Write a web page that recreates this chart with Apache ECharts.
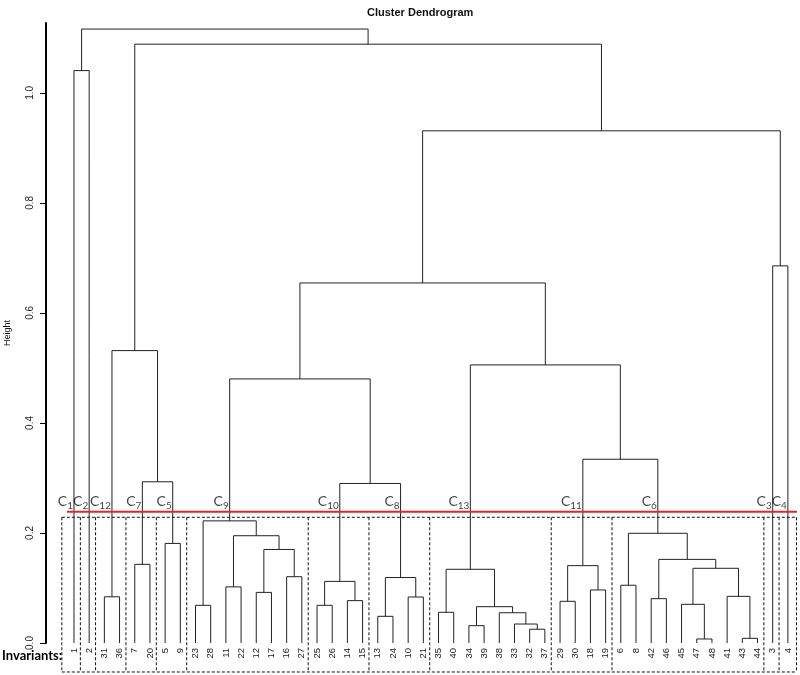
<!DOCTYPE html>
<html><head><meta charset="utf-8">
<script src="https://cdn.jsdelivr.net/npm/echarts@6/dist/echarts.min.js"></script>
<style>html,body{margin:0;padding:0;background:#fff}#c{width:800px;height:675px}</style>
</head><body><div id="c"></div>
<script>
// Leaf order along the x axis (labels of invariants)
const leafOrder = [1,2,31,36,7,20,5,9,23,28,11,22,12,17,16,27,25,26,14,15,13,24,10,21,35,40,34,39,38,33,32,37,29,30,18,19,6,8,42,46,45,47,48,41,43,44,3,4];
// hclust-style merges: negative = leaf label, positive = earlier merge row (1-based); third = height
const merges = [
  [-47,-48,0.0073],[-43,-44,0.0085],[-32,-37,0.025],[-34,-39,0.0315],[-33,3,0.0345],
  [-13,-24,0.0485],[-38,5,0.055],[-35,-40,0.0558],[4,7,0.066],[-25,-26,0.0685],
  [-23,-28,0.0685],[-45,1,0.0703],[-29,-30,0.0758],[-14,-15,0.077],[-42,-46,0.0806],
  [-10,-21,0.0836],[-31,-36,0.084],[-41,2,0.0848],[-12,-17,0.092],[-18,-19,0.0964],
  [-11,-22,0.102],[-6,-8,0.105],[10,14,0.112],[6,16,0.119],[-16,-27,0.1205],
  [8,9,0.134],[12,18,0.1358],[13,20,0.1406],[-7,-20,0.143],[15,27,0.152],
  [19,25,0.170],[-5,-9,0.181],[21,31,0.195],[22,30,0.1994],[11,33,0.222],
  [23,24,0.290],[29,32,0.293],[28,34,0.334],[35,36,0.480],[26,38,0.5055],
  [17,37,0.5315],[39,40,0.6545],[-3,-4,0.6855],[42,43,0.931],[-1,-2,1.0405],
  [41,44,1.0885],[45,46,1.116]
];
const clusterNames = ['1','2','12','7','5','9','10','8','13','11','6','3','4'];
const clusterSizes = [1,1,2,2,2,8,4,4,8,4,10,1,1];
const cutHeight = 0.2388;
const yTicks = [0, 0.2, 0.4, 0.6, 0.8, 1.0];
const yTickLabels = ['0.0','0.2','0.4','0.6','0.8','1.0'];

// ---- build tree geometry in data units ----
function leafIdx(l){ return leafOrder.indexOf(l) + 1; }
const nodes = [];
function info(ref){
  if (ref < 0) { const i = leafIdx(-ref); return {x:i, h:0, lo:i, hi:i}; }
  return nodes[ref-1];
}
merges.forEach(([a,b,h]) => {
  const A = info(a), B = info(b);
  nodes.push({x:(A.x+B.x)/2, h, lo:Math.min(A.lo,B.lo), hi:Math.max(A.hi,B.hi), A, B});
});
const treeData = nodes.map(n => [n.A.x, n.A.h, n.B.x, n.B.h, n.h]);

// clusters
const clusterData = [];
const boundaries = [0.2];
let start = 1;
clusterSizes.forEach((s, k) => {
  const lo = start, hi = start + s - 1;
  let x = lo;
  if (hi > lo) { const nd = nodes.find(n => n.lo === lo && n.hi === hi); x = nd ? nd.x : (lo+hi)/2; }
  clusterData.push([x, cutHeight, clusterNames[k]]);
  if (k < clusterSizes.length - 1) boundaries.push(hi + 0.42);
  start = hi + 1;
});
boundaries.push(leafOrder.length + 0.57);
const boxTop = 0.2285, boxBottom = -0.0527;
const boxData = boundaries.map((b,i) => [b, boundaries[0], boundaries[boundaries.length-1], i]);

const xMin = -0.843, xMax = 48.6;
const chart = echarts.init(document.getElementById('c'), null, {renderer:'canvas'});
chart.setOption({
  animation: false,
  backgroundColor: '#fff',
  title: { text: 'Cluster Dendrogram', left: 362, top: 2,
    textStyle: { fontSize: 11, fontWeight: 'bold', fontFamily: 'Liberation Sans', color: '#111' } },
  grid: { left: 46, right: 3, top: 23, bottom: 32, containLabel: false, outerBoundsMode: 'none' },
  xAxis: {
    type: 'value', min: xMin, max: xMax,
    axisLine: { show: false, onZero: false }, axisTick: { show: false }, splitLine: { show: false },
    axisLabel: {
      customValues: leafOrder.map((_, i) => i + 1),
      formatter: v => String(leafOrder[Math.round(v) - 1]),
      rotate: 90, margin: 5, fontSize: 9.5, fontFamily: 'Liberation Sans', color: '#222'
    }
  },
  yAxis: {
    type: 'value', min: 0, max: 1.127,
    name: 'Height', nameLocation: 'middle', nameRotate: 90, nameGap: 34,
    nameTextStyle: { fontSize: 9, fontFamily: 'Liberation Sans', color: '#111' },
    axisLine: { show: true, onZero: false, lineStyle: { color: '#000', width: 2 } },
    axisTick: { show: true, customValues: yTicks, length: 6, lineStyle: { color: '#000', width: 1 } },
    splitLine: { show: false },
    axisLabel: { customValues: yTicks, formatter: v => yTickLabels[yTicks.indexOf(Math.round(v*10)/10)] || '',
      rotate: 90, margin: 11, fontSize: 10, fontFamily: 'Liberation Sans', color: '#222' }
  },
  graphic: [{ type: 'text', left: 2, top: 649,
    style: { text: 'Invariants:', font: 'bold 13px Lato', fill: '#000' } }],
  series: [
    { type: 'custom', clip: false, data: treeData, silent: true,
      renderItem: (p, api) => {
        const pts = [
          api.coord([api.value(0), api.value(1)]),
          api.coord([api.value(0), api.value(4)]),
          api.coord([api.value(2), api.value(4)]),
          api.coord([api.value(2), api.value(3)])
        ];
        return { type: 'polyline', shape: { points: pts }, style: { stroke: '#222', lineWidth: 1, fill: null } };
      } },
    { type: 'custom', clip: false, data: boxData, silent: true,
      renderItem: (p, api) => {
        const b = api.value(0);
        const st = { stroke: '#111', lineWidth: 1, lineDash: [3, 2], fill: null };
        const children = [{ type: 'line', shape: (() => { const a = api.coord([b, boxTop]), c = api.coord([b, boxBottom]); return {x1:a[0],y1:a[1],x2:c[0],y2:c[1]}; })(), style: st }];
        if (api.value(3) === 0) {
          const l = api.value(1), r = api.value(2);
          [boxTop, boxBottom].forEach(h => {
            const a = api.coord([l, h]), c = api.coord([r, h]);
            children.push({ type: 'line', shape: {x1:a[0],y1:a[1],x2:c[0],y2:c[1]}, style: st });
          });
        }
        return { type: 'group', children };
      } },
    { type: 'line', data: [[0.54, cutHeight], [48.6, cutHeight]], symbol: 'none', silent: true, clip: false,
      lineStyle: { color: '#e0262a', width: 2 } },
    { type: 'scatter', data: clusterData, symbolSize: 0, silent: true, clip: false,
      label: { show: true, position: [0, 0], align: 'right', verticalAlign: 'bottom', offset: [-1, -1],
        formatter: p => '{c|C}{s|' + p.value[2] + '}',
        rich: {
          c: { fontSize: 14, fontFamily: 'Lato', color: '#111', lineHeight: 16, verticalAlign: 'top' },
          s: { fontSize: 10, fontFamily: 'Lato', color: '#111', lineHeight: 16, verticalAlign: 'bottom' }
        } } }
  ]
});
</script></body></html>
